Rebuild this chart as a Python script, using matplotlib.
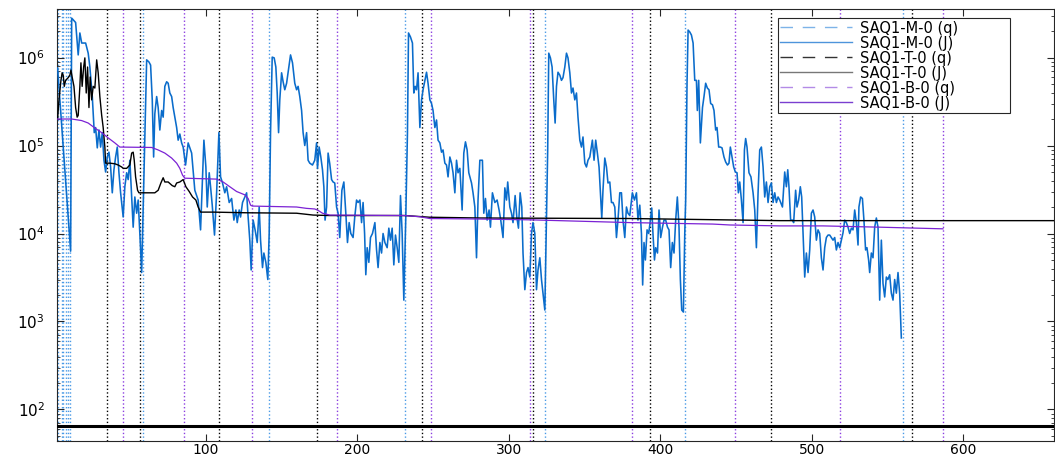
import matplotlib
matplotlib.use('Agg')
import matplotlib.pyplot as plt
from matplotlib.lines import Line2D
from matplotlib.ticker import LogLocator, NullLocator

plt.rcParams['font.family'] = ['DejaVu Sans']

# SAQ1-M-0 (J)
m_x = [2.1, 10.7, 11.4, 14.0, 15.7, 16.8, 18.0, 20.6, 22.3, 23.4,
       25.0, 26.3, 27.2, 28.3, 29.4, 30.5, 31.6, 32.7, 33.8, 34.9,
       36.0, 37.1, 38.2, 39.3, 40.4, 41.5, 42.6, 43.7, 45.4, 46.5,
       47.7, 48.7, 49.8, 51.0, 52.0, 53.1, 54.3, 55.3, 56.4, 57.6,
       58.6, 59.7, 60.9, 62.4, 63.5, 64.6, 65.5, 66.3, 67.5, 68.5,
       69.6, 70.8, 71.8, 72.9, 74.1, 75.1, 76.2, 77.4, 78.4, 79.5,
       80.7, 81.7, 82.8, 84.0, 85.0, 86.6, 88.3, 90.6, 92.7, 94.9,
       96.5, 98.7, 100.0, 100.9, 102.2, 103.1, 104.2, 105.7, 107.1, 108.6,
       109.7, 111.0, 112.5, 113.7, 115.4, 117.0, 118.5, 119.8, 120.7, 122.0,
       122.9, 124.2, 125.7, 126.9, 127.9, 129.0, 129.9, 131.2, 132.5, 133.9,
       135.2, 136.1, 137.4, 138.3, 139.6, 140.9, 141.8, 142.7, 143.8, 145.1,
       146.2, 147.1, 148.0, 148.8, 150.0, 151.0, 152.1, 153.3, 154.3, 155.9,
       157.2, 158.7, 159.9, 160.9, 162.0, 163.2, 164.2, 165.3, 166.5, 167.5,
       168.6, 170.4, 171.9, 173.1, 173.7, 174.8, 175.9, 177.0, 177.9, 178.7,
       179.7, 180.7, 181.8, 183.0, 184.0, 185.1, 186.3, 187.3, 188.4, 189.8,
       191.1, 192.4, 193.5, 194.6, 195.7, 197.2, 198.3, 199.5, 200.5, 201.7,
       202.8, 203.8, 204.8, 205.6, 206.5, 207.6, 208.7, 210.0, 211.6, 212.7,
       213.7, 214.9, 216.0, 217.0, 218.2, 219.7, 220.8, 221.9, 223.0, 224.1,
       225.2, 226.3, 227.4, 228.5, 229.6, 230.7, 232.0, 233.1, 233.8, 235.1,
       236.4, 237.3, 238.2, 239.1, 240.1, 241.3, 242.4, 243.4, 244.6, 245.7,
       246.7, 247.9, 249.0, 250.0, 251.2, 252.3, 253.3, 254.5, 255.6, 256.6,
       257.8, 258.9, 259.9, 261.1, 262.2, 263.2, 264.4, 265.5, 266.5, 267.7,
       269.2, 270.3, 271.4, 272.5, 273.6, 275.4, 276.4, 277.6, 278.7, 279.7,
       280.9, 282.6, 283.5, 284.6, 285.7, 287.0, 287.9, 289.2, 290.8, 292.3,
       293.6, 294.7, 296.2, 297.4, 298.5, 299.3, 300.7, 301.8, 302.8, 304.2,
       305.3, 306.4, 307.5, 308.6, 309.4, 310.6, 311.7, 312.7, 313.9, 315.0,
       316.0, 317.2, 318.3, 319.3, 320.5, 321.6, 322.6, 323.8, 324.9, 325.7,
       326.4, 327.5, 328.6, 329.7, 330.6, 331.5, 332.5, 333.7, 334.8, 335.8,
       337.0, 338.1, 339.1, 340.3, 341.4, 342.4, 343.6, 344.7, 345.7, 346.9,
       348.0, 349.0, 350.2, 351.3, 352.3, 353.5, 355.2, 356.3, 357.4, 358.5,
       359.6, 360.5, 361.4, 362.2, 363.4, 364.5, 365.5, 366.7, 367.8, 368.8,
       370.0, 371.1, 372.1, 373.3, 374.4, 375.4, 376.6, 377.7, 378.7, 379.9,
       381.6, 383.0, 384.3, 385.3, 386.5, 387.6, 388.4, 389.3, 390.2, 391.3,
       392.4, 393.5, 394.4, 395.2, 396.2, 397.0, 398.2, 399.2, 400.3, 401.5,
       402.5, 403.6, 404.8, 405.8, 406.9, 408.0, 409.1, 410.2, 411.3, 412.4,
       413.3, 414.2, 415.3, 416.2, 416.8, 417.7, 418.4, 419.5, 420.6, 421.7,
       422.8, 423.9, 424.5, 425.4, 426.5, 427.9, 428.9, 430.0, 431.1, 432.2,
       433.3, 434.5, 435.5, 436.6, 437.5, 438.6, 439.7, 440.8, 442.1, 443.2,
       444.4, 445.4, 446.3, 447.4, 448.5, 449.6, 450.7, 451.6, 452.5, 453.6,
       454.7, 455.6, 456.4, 457.3, 458.6, 459.9, 461.3, 462.4, 463.5, 464.6,
       465.7, 466.8, 467.9, 469.0, 470.1, 471.2, 472.3, 473.4, 474.5, 475.6,
       476.7, 477.8, 478.9, 480.7, 482.2, 483.3, 484.2, 485.0, 486.1, 487.3,
       488.1, 489.4, 490.3, 491.4, 492.5, 493.4, 494.3, 495.4, 496.5, 497.6,
       498.7, 499.8, 500.9, 502.0, 503.1, 504.2, 505.3, 506.4, 507.5, 508.6,
       509.7, 510.8, 511.9, 513.0, 514.1, 515.2, 516.3, 517.4, 518.5, 519.6,
       520.7, 521.8, 522.9, 524.0, 525.1, 526.2, 527.3, 528.4, 529.5, 530.6,
       531.2, 532.3, 533.5, 534.5, 535.6, 536.5, 537.6, 538.3, 539.4, 540.5,
       541.6, 542.7, 543.8, 544.9, 546.0, 547.1, 548.2, 549.3, 550.3, 551.5,
       552.6, 553.7, 554.8, 555.9, 557.0, 558.1, 559.2]
m_y = [7.6e5, 6.3e3, 2.8e6, 2.5e6, 1.07e6, 1.9e6, 1.46e6, 1.46e6, 1.12e6, 7.8e5,
       3.6e5, 1.4e5, 1.6e5, 9.4e4, 1.5e5, 9.6e4, 1.4e5, 6.8e4, 5.0e4, 7.4e4,
       8.4e4, 5.7e4, 2.9e4, 5.3e4, 7.4e4, 9.6e4, 4.9e4, 2.9e4, 1.54e4, 3.4e4,
       4.9e4, 4.1e4, 6.8e4, 2.6e4, 1.18e4, 2.6e4, 1.7e4, 2.4e4, 1.0e4, 3.6e3,
       2.0e4, 1.4e5, 9.4e5, 8.9e5, 8.2e5, 3.3e5, 7.4e4, 2.3e5, 3.6e5, 2.7e5,
       1.5e5, 2.5e5, 2.1e5, 4.7e5, 5.3e5, 5.1e5, 3.95e5, 3.6e5, 2.7e5, 2.1e5,
       1.6e5, 1.15e5, 1.35e5, 1.07e5, 9.6e4, 6.0e4, 1.07e5, 8.2e4, 3.1e4, 2.4e4,
       1.1e4, 1.15e5, 5.7e4, 2.0e4, 4.9e4, 3.4e4, 2.1e4, 9.6e3, 2.9e4, 1.4e5,
       4.4e4, 3.75e4, 2.9e4, 3.4e4, 2.25e4, 2.5e4, 1.42e4, 1.85e4, 1.33e4, 1.85e4,
       1.54e4, 2.25e4, 2.6e4, 2.9e4, 1.54e4, 8.4e3, 3.85e3, 1.42e4, 1.1e4, 7.9e3,
       2.0e4, 8.4e3, 4.1e3, 6.0e3, 4.7e3, 3.0e3, 1.0e4, 1.4e5, 1.01e6, 9.9e5,
       7.8e5, 3.95e5, 1.4e5, 3.3e5, 6.7e5, 5.3e5, 4.3e5, 5.1e5, 6.8e5, 1.07e6,
       8.7e5, 5.1e5, 4.3e5, 4.7e5, 3.6e5, 2.5e5, 1.4e5, 1.0e5, 1.4e5, 6.8e4,
       6.3e4, 6.0e4, 6.8e4, 1.07e5, 5.5e4, 9.6e4, 7.4e4, 5.3e4, 3.4e4, 1.42e4,
       2.0e4, 8.2e4, 6.2e4, 4.1e4, 3.85e4, 3.75e4, 2.0e4, 1.7e4, 9.0e3, 3.1e4,
       3.85e4, 1.7e4, 7.9e3, 1.33e4, 1.0e4, 9.0e3, 1.54e4, 2.4e4, 2.25e4, 2.4e4,
       1.33e4, 2.25e4, 1.0e4, 3.4e3, 6.9e3, 4.7e3, 9.0e3, 1.0e4, 1.33e4, 6.5e3,
       4.1e3, 7.9e3, 6.0e3, 1.0e4, 7.9e3, 6.9e3, 1.15e4, 8.4e3, 1.15e4, 4.4e3,
       9.6e3, 6.9e3, 4.7e3, 2.7e4, 1.0e4, 1.75e3, 1.54e4, 1.4e5, 1.9e6, 1.71e6,
       1.46e6, 3.95e5, 4.7e5, 4.3e5, 6.7e5, 1.6e5, 3.3e5, 4.3e5, 5.5e5, 6.8e5,
       5.1e5, 3.3e5, 3.0e5, 2.5e5, 1.6e5, 1.95e5, 1.15e5, 1.07e5, 8.4e4, 8.9e4,
       6.3e4, 6.0e4, 4.4e4, 7.4e4, 6.3e4, 4.9e4, 2.9e4, 6.8e4, 4.9e4, 5.5e4,
       1.85e4, 8.2e4, 1.1e5, 8.9e4, 4.9e4, 3.75e4, 2.9e4, 2.0e4, 5.3e3, 2.4e4,
       6.8e4, 6.8e4, 1.7e4, 2.5e4, 1.42e4, 1.85e4, 1.18e4, 2.9e4, 2.25e4, 2.4e4,
       1.85e4, 1.42e4, 9.0e3, 3.3e4, 2.4e4, 3.85e4, 2.0e4, 1.7e4, 1.33e4, 2.7e4,
       1.54e4, 1.15e4, 2.9e4, 2.0e4, 6.0e3, 2.3e3, 3.6e3, 4.1e3, 3.2e3, 1.0e4,
       1.33e4, 1.0e4, 2.3e3, 3.85e3, 5.3e3, 3.0e3, 2.1e3, 1.35e3, 1.54e4, 8.9e4,
       1.12e6, 9.9e5, 7.8e5, 3.3e5, 1.8e5, 4.7e5, 6.8e5, 6.3e5, 5.5e5, 5.9e5,
       7.8e5, 1.12e6, 9.9e5, 6.7e5, 3.95e5, 4.5e5, 3.3e5, 3.95e5, 2.1e5, 1.15e5,
       9.6e4, 1.25e5, 6.3e4, 5.7e4, 6.8e4, 7.4e4, 1.15e5, 6.8e4, 1.15e5, 8.2e4,
       5.7e4, 2.9e4, 1.5e4, 3.1e4, 7.2e4, 5.7e4, 3.75e4, 3.85e4, 2.25e4, 2.25e4,
       2.0e4, 9.0e3, 1.42e4, 2.9e4, 2.9e4, 1.42e4, 9.0e3, 2.0e4, 1.7e4, 1.6e4,
       2.9e4, 2.4e4, 2.9e4, 1.42e4, 2.1e4, 1.0e4, 2.6e3, 7.9e3, 5.0e3, 1.1e4,
       1.0e4, 1.42e4, 1.95e4, 1.0e4, 5.0e3, 6.9e3, 6.0e3, 1.85e4, 9.0e3, 1.18e4,
       1.42e4, 1.42e4, 1.18e4, 1.1e4, 4.1e3, 7.9e3, 6.0e3, 1.42e4, 2.6e4, 1.18e4,
       3.0e3, 1.35e3, 1.28e3, 1.0e4, 2.4e4, 5.1e5, 2.05e6, 1.95e6, 1.8e6, 1.46e6,
       5.5e5, 5.5e5, 2.5e5, 5.5e5, 1.07e5, 2.7e5, 3.6e5, 5.1e5, 4.5e5, 4.3e5,
       3.0e5, 2.9e5, 2.5e5, 1.5e5, 1.6e5, 9.6e4, 9.6e4, 9.4e4, 7.4e4, 6.5e4,
       6.0e4, 6.3e4, 9.6e4, 7.4e4, 5.7e4, 5.0e4, 4.9e4, 2.9e4, 3.85e4, 2.4e4,
       1.33e4, 8.9e4, 1.2e5, 9.6e4, 4.9e4, 4.4e4, 2.9e4, 1.85e4, 6.9e3, 2.9e4,
       8.9e4, 9.6e4, 5.7e4, 2.6e4, 3.85e4, 2.25e4, 3.4e4, 3.75e4, 2.25e4, 2.9e4,
       2.25e4, 2.6e4, 2.4e4, 2.0e4, 5.0e4, 3.4e4, 5.3e4, 3.4e4, 1.42e4, 1.42e4,
       1.33e4, 3.1e4, 2.0e4, 2.4e4, 3.4e4, 2.6e4, 1.0e4, 3.2e3, 6.0e3, 3.6e3,
       6.5e3, 1.7e4, 1.85e4, 1.54e4, 8.4e3, 1.1e4, 1.0e4, 5.3e3, 3.85e3, 6.9e3,
       9.0e3, 9.6e3, 9.6e3, 9.0e3, 8.4e3, 9.0e3, 6.5e3, 7.9e3, 6.9e3, 8.4e3,
       1.02e4, 1.42e4, 1.33e4, 1.18e4, 1.0e4, 1.15e4, 1.1e4, 1.85e4, 1.33e4, 7.4e3,
       2.0e4, 2.6e4, 2.5e4, 1.42e4, 6.5e3, 6.9e3, 5.0e3, 3.6e3, 6.0e3, 5.3e3,
       1.18e4, 1.5e4, 1.18e4, 1.75e3, 8.4e3, 2.7e3, 1.9e3, 3.2e3, 3.0e3, 3.4e3,
       2.1e3, 1.75e3, 3.0e3, 2.1e3, 3.6e3, 2.1e3, 6.5e2]

# SAQ1-T-0 (J)
t_x = [2.1, 3.0, 4.3, 5.1, 5.8, 6.5, 7.4, 9.1, 10.2, 10.9,
       11.7, 12.9, 14.0, 15.0, 15.7, 16.8, 17.5, 18.3, 19.3, 20.1,
       21.0, 21.9, 22.8, 23.6, 24.6, 25.6, 26.7, 27.9, 28.9, 30.0,
       31.2, 32.2, 32.9, 33.3, 33.8, 36.6, 39.9, 42.1, 44.4, 45.4,
       47.7, 49.8, 51.0, 52.0, 52.7, 53.6, 54.9, 55.8, 60.9, 66.3,
       68.5, 70.3, 71.8, 72.9, 75.1, 77.8, 79.5, 80.7, 82.8, 85.0,
       86.8, 89.0, 91.2, 93.4, 94.9, 96.5, 104.8, 126.9, 159.9, 170.8,
       181.8, 231.4, 247.9, 280.9, 379.9, 478.9, 666.0]
t_y = [2.0e5, 3.3e5, 5.5e5, 6.7e5, 6.3e5, 4.7e5, 5.5e5, 5.9e5, 6.3e5, 7.2e5,
       6.0e5, 4.7e5, 2.7e5, 2.1e5, 2.2e5, 4.7e5, 8.7e5, 4.7e5, 7.8e5, 9.9e5,
       3.95e5, 7.8e5, 2.7e5, 6.0e5, 3.3e5, 4.7e5, 4.5e5, 9.4e5, 6.7e5, 3.6e5,
       2.2e5, 1.6e5, 1.15e5, 9.6e4, 6.3e4, 6.3e4, 6.2e4, 6.0e4, 5.7e4, 5.5e4,
       5.5e4, 6.0e4, 8.2e4, 8.4e4, 6.8e4, 4.4e4, 3.1e4, 2.9e4, 2.9e4, 2.9e4,
       3.1e4, 3.75e4, 4.3e4, 3.85e4, 3.85e4, 3.5e4, 3.4e4, 3.75e4, 3.85e4, 4.1e4,
       3.4e4, 3.0e4, 2.6e4, 2.4e4, 2.0e4, 1.75e4, 1.75e4, 1.72e4, 1.7e4, 1.62e4,
       1.6e4, 1.6e4, 1.53e4, 1.5e4, 1.48e4, 1.4e4, 1.4e4]

# SAQ1-B-0 (J)
b_x = [2.1, 11.4, 18.0, 22.3, 26.7, 31.2, 35.5, 39.9, 43.2,
       64.2, 68.5, 72.9, 77.4, 80.7, 82.8, 84.6, 86.1,
       107.1, 111.4, 115.8, 120.3, 125.7, 127.9, 129.5, 130.6,
       159.9, 166.5, 171.9, 174.1, 177.0, 181.8,
       231.4, 241.3, 247.9, 280.9, 313.9, 379.9, 434.7, 445.9, 478.9, 507.5, 544.9, 586.7]
b_y = [2.0e5, 2.0e5, 1.92e5, 1.8e5, 1.58e5, 1.4e5, 1.22e5, 1.07e5, 9.6e4,
       9.5e4, 8.9e4, 8.2e4, 7.2e4, 6.3e4, 5.5e4, 4.6e4, 4.25e4,
       4.15e4, 3.85e4, 3.4e4, 3.0e4, 2.75e4, 2.5e4, 2.1e4, 2.05e4,
       2.0e4, 1.93e4, 1.9e4, 1.83e4, 1.7e4, 1.62e4,
       1.6e4, 1.55e4, 1.48e4, 1.46e4, 1.43e4, 1.33e4, 1.28e4, 1.25e4, 1.22e4, 1.22e4, 1.18e4, 1.13e4]

# event markers (dotted verticals)
m_events = [2.5, 4.8, 5.8, 7.6, 8.7, 10.2, 58.3, 141.6, 231.5, 324.2, 416.2, 560.0]
t_events = [34.5, 56.4, 108.6, 173.7, 242.8, 316.0, 393.4, 473.4, 566.0]
b_events = [45.0, 85.5, 130.7, 186.6, 248.4, 313.9, 381.3, 449.2, 518.5, 587.0]

q_level = 65
labels = ['SAQ1-M-0 (q)', 'SAQ1-M-0 (J)', 'SAQ1-T-0 (q)',
          'SAQ1-T-0 (J)', 'SAQ1-B-0 (q)', 'SAQ1-B-0 (J)']

fig = plt.figure(figsize=(10.55, 4.59), dpi=100)
ax = fig.add_axes([57.3 / 1055, 18.3 / 459, 996.7 / 1055, 431.4 / 459])

for x in m_events:
    ax.axvline(x, color='#4a9ae6', ls=':', lw=1, zorder=1)
for x in t_events:
    ax.axvline(x, color='black', ls=':', lw=1, zorder=1)
for x in b_events:
    ax.axvline(x, color='#8c3fe0', ls=':', lw=1, zorder=1)

ax.plot(m_x, m_y, color='#0a6ccb', lw=1.15, zorder=3)
ax.plot(t_x, t_y, color='black', lw=1.0, zorder=3)
ax.plot(b_x, b_y, color='#7b22d4', lw=0.9, zorder=3)
ax.axhline(q_level, color='black', lw=2.2, zorder=4)

ax.set_yscale('log')
ax.set_xlim(1.9, 660)
ax.set_ylim(44.2, 3.53e6)
ax.set_xticks([100, 200, 300, 400, 500, 600])
ax.xaxis.set_minor_locator(NullLocator())
ax.set_yticks([1e2, 1e3, 1e4, 1e5, 1e6])
ax.yaxis.set_minor_locator(LogLocator(base=10, subs=range(2, 10)))
ax.tick_params(which='both', direction='in', top=True, right=True,
               color='#262626', labelsize=11)
ax.tick_params(which='major', length=5, width=0.8)
ax.tick_params(which='minor', length=2.5, width=0.6)
ax.tick_params(axis='y', pad=9)
ax.tick_params(axis='x', pad=2, labelsize=10)
for s in ax.spines.values():
    s.set_color('#262626')
    s.set_linewidth(0.8)

handles = [
    Line2D([], [], color='#7db3e8', ls=(0, (9, 7)), lw=1),
    Line2D([], [], color='#4d94db', lw=1),
    Line2D([], [], color='#333333', ls=(0, (9, 7)), lw=1),
    Line2D([], [], color='#777777', lw=1),
    Line2D([], [], color='#b38be6', ls=(0, (9, 7)), lw=1),
    Line2D([], [], color='#7a3fd0', lw=1),
]
leg = ax.legend(handles, labels, loc='upper left',
                bbox_to_anchor=(0.7231, 0.7704, 0.2328, 0.2086), mode='expand',
                borderaxespad=0, fontsize=10.5, handlelength=4.9, handletextpad=0.55,
                labelspacing=0.0, borderpad=0.15, fancybox=False, framealpha=1)
leg.get_frame().set_edgecolor('#262626')
leg.get_frame().set_linewidth(0.8)

fig.savefig('out.png', dpi=100)
